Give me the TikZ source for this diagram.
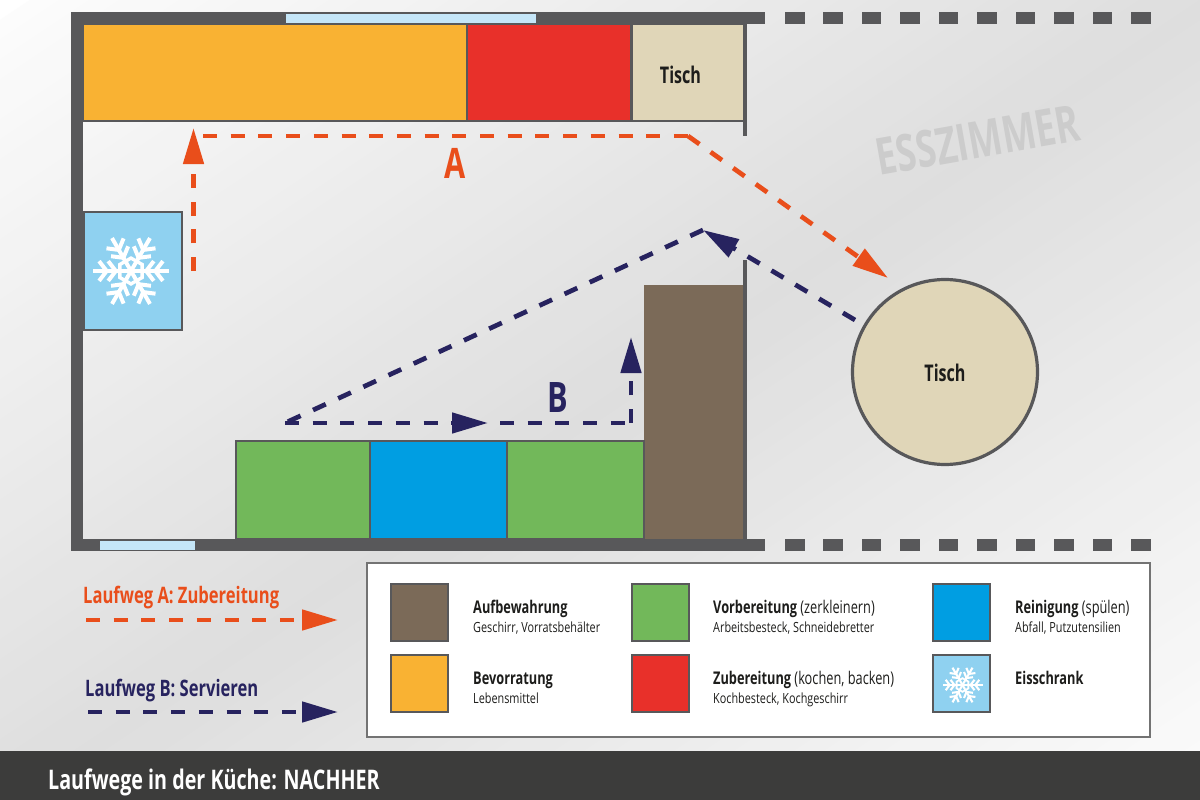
\documentclass[tikz,border=0pt]{standalone}
\usepackage{fontspec}
\setmainfont[FakeStretch=0.73]{Open Sans}
\newfontfamily\subf[FakeStretch=0.775]{Open Sans}
\newfontfamily\tischf[FakeStretch=0.70]{Open Sans}
\newfontfamily\roomf[FakeStretch=0.71]{Open Sans}
\usetikzlibrary{arrows.meta}
\definecolor{wallc}{HTML}{58585A}
\definecolor{winc}{HTML}{C5E6F8}
\definecolor{orangec}{HTML}{F9B233}
\definecolor{redc}{HTML}{E8302A}
\definecolor{tischc}{HTML}{E0D6B8}
\definecolor{brownc}{HTML}{7B6A58}
\definecolor{greenc}{HTML}{72B85A}
\definecolor{bluec}{HTML}{009EE2}
\definecolor{icec}{HTML}{8FD1F0}
\definecolor{pathA}{HTML}{E94E1B}
\definecolor{pathB}{HTML}{27235F}
\definecolor{barc}{HTML}{3C3C3B}
\definecolor{txt}{HTML}{1D1D1B}
\tikzset{
  x=1pt,y=-1pt,
  block/.style={anchor=north west,inner sep=0pt,outer sep=0pt,draw=wallc,line width=1.2pt},
  wallpart/.style={anchor=north west,inner sep=0pt,outer sep=0pt,fill=wallc},
  winpart/.style={anchor=north west,inner sep=0pt,outer sep=0pt,fill=winc,draw=wallc,line width=.5pt},
  swatch/.style={block,minimum width=57pt,minimum height=57pt},
  walkA/.style={draw=pathA,line width=4.7pt,dash pattern=on 14pt off 13.7pt},
  walkB/.style={draw=pathB,line width=4.7pt,dash pattern=on 14pt off 13.7pt},
  headA/.style={-{Triangle[length=36pt,width=20pt,color=pathA]}},
  headB/.style={-{Triangle[length=36pt,width=20pt,color=pathB]}},
  legmain/.style={anchor=base west,inner sep=0pt,font=\fontsize{17.5}{17.5}\selectfont\bfseries,text=txt},
  legsub/.style={anchor=base west,inner sep=0pt,font=\subf\fontsize{14}{14}\selectfont,text=txt},
  tischtext/.style={anchor=base,inner sep=0pt,font=\tischf\fontsize{23}{23}\selectfont\bfseries,text=txt},
  letter/.style={anchor=base,inner sep=0pt,font=\fontsize{42}{42}\selectfont\bfseries},
  routelabel/.style={anchor=base west,inner sep=0pt,font=\fontsize{22.7}{22.7}\selectfont\bfseries},
}
% snowflake: #1 centre, #2 radius
\newcommand{\flake}[2]{%
  \begin{scope}[shift={(#1)},line cap=butt,draw=white,line width=#2*0.105pt]
    \foreach \a in {0,60,...,300}{
      \begin{scope}[rotate=\a]
        \draw (0,0) -- (#2,0);
        \draw (#2*0.40,0) -- ++(#2*0.2,#2*0.26) (#2*0.40,0) -- ++(#2*0.2,-#2*0.26);
        \draw (#2*0.64,0) -- ++(#2*0.2,#2*0.26) (#2*0.64,0) -- ++(#2*0.2,-#2*0.26);
      \end{scope}
    }
    \draw[line width=#2*0.09pt] (30:#2*0.34) -- (90:#2*0.34) -- (150:#2*0.34) -- (210:#2*0.34) -- (270:#2*0.34) -- (330:#2*0.34) -- cycle;
  \end{scope}}
\begin{document}
\begin{tikzpicture}
\useasboundingbox (0,0) rectangle (1200,800);
% diagonal background gradient, painted as nested bands
\fill[white] (0,0) rectangle (1200,800);
\begin{scope}
\clip (0,0) rectangle (1200,800);
\foreach \i in {1,...,80}{
  \pgfmathsetmacro{\t}{\i/80}
  \pgfmathsetmacro{\g}{\t<0.5 ? 1+24*\t : 13-24*(\t-0.5)}
  \fill[black!\g] (2*\t*1200,0) -- (2400,0) -- (2400,1600) -- (0,1600) -- (0,2*\t*800) -- cycle;
}
\end{scope}

% walls
\node[wallpart,minimum width=694pt,minimum height=12pt] (walltop) at (71,12) {};
\node[wallpart,minimum width=12pt,minimum height=539pt] (wallleft) at (71,12) {};
\node[wallpart,minimum width=694pt,minimum height=12pt] (wallbottom) at (71,539) {};
\foreach \i in {0,...,9}{
  \node[wallpart,minimum width=19.5pt,minimum height=12pt] (dashtop\i) at (785+\i*38.45,12) {};
  \node[wallpart,minimum width=19.5pt,minimum height=12pt] (dashbot\i) at (785+\i*38.45,539) {};
}
\node[winpart,minimum width=251pt,minimum height=10pt] (wintop) at (285,13) {};
\node[winpart,minimum width=96pt,minimum height=10pt] (winbot) at (99,540) {};

% units
\node[block,fill=orangec,minimum width=384pt,minimum height=97pt] (stock) at (83,24) {};
\node[block,fill=redc,minimum width=164pt,minimum height=97pt] (cook) at (467,24) {};
\node[block,fill=tischc,minimum width=112pt,minimum height=97pt] (counter) at (632,24) {};
\node[tischtext] (countertext) at (680.5,84) {Tisch};
\node[wallpart,minimum width=4pt,minimum height=112pt] (stubtop) at (742.5,24) {};
\node[wallpart,minimum width=4pt,minimum height=279pt] (stubbot) at (742.5,260) {};
\node[block,fill=icec,minimum width=98pt,minimum height=118pt] (fridge) at (84,212) {};
\flake{131,271}{38}
\node[block,fill=brownc,draw=none,minimum width=98.5pt,minimum height=254pt] (storage) at (644,285) {};
\node[block,fill=greenc,minimum width=134pt,minimum height=98pt] (prep1) at (236,441) {};
\node[block,fill=bluec,minimum width=137pt,minimum height=98pt] (sink) at (370,441) {};
\node[block,fill=greenc,minimum width=137pt,minimum height=98pt] (prep2) at (507,441) {};
\node[circle,fill=tischc,draw=wallc,line width=3.2pt,minimum size=185pt,inner sep=0pt] (table) at (945,372) {};
\node[tischtext] (tabletext) at (945,381) {Tisch};
\node[anchor=center,inner sep=0pt,rotate=10,text=black!20,font=\roomf\fontsize{51}{51}\selectfont\bfseries] (room) at (978,140) {ESSZIMMER};

% route A
\coordinate (a0) at (193.5,271);
\coordinate (a1) at (193.5,128);
\coordinate (a2) at (203,136);
\coordinate (a3) at (688,136);
\coordinate (a4) at (888,278);
\draw[walkA,headA] (a0) -- (a1);
\draw[walkA] (a2) -- (a3);
\draw[walkA,headA] (a3) -- (a4);
\node[letter,text=pathA] (labelA) at (455,178) {A};

% route B
\coordinate (b0) at (285,423);
\coordinate (b1) at (488,423);
\coordinate (b1b) at (500,423);
\coordinate (b2) at (631,423);
\coordinate (b3) at (631,337);
\coordinate (b4) at (855,320);
\coordinate (b5) at (703,230);
\draw[walkB,headB] (b0) -- (b1);
\draw[walkB] (b1b) -- (b2);
\draw[walkB,headB] (b2) -- (b3);
\draw[walkB,headB] (b4) -- (b5);
\draw[walkB] (b5) -- (b0);
\node[letter,text=pathB] (labelB) at (558,412) {B};

% route legend
\node[routelabel,text=pathA] (keyA) at (83,603) {Laufweg A: Zubereitung};
\node[routelabel,text=pathB] (keyB) at (85,696) {Laufweg B: Servieren};
\coordinate (ka0) at (86,620);
\coordinate (ka1) at (338,620);
\coordinate (kb0) at (88,712);
\coordinate (kb1) at (338,712);
\draw[walkA,headA] (ka0) -- (ka1);
\draw[walkB,headB] (kb0) -- (kb1);

% legend
\node[anchor=north west,inner sep=0pt,outer sep=0pt,fill=white,draw=black!55,line width=1.6pt,minimum width=783pt,minimum height=174pt] (legend) at (367,563) {};
\node[swatch,fill=brownc] (s1) at (391,584) {};
\node[swatch,fill=orangec] (s2) at (391,655) {};
\node[swatch,fill=greenc] (s3) at (632,584) {};
\node[swatch,fill=redc] (s4) at (632,655) {};
\node[swatch,fill=bluec] (s5) at (933,584) {};
\node[swatch,fill=icec] (s6) at (933,655) {};
\flake{962.5,685}{20}
\node[legmain] (t1) at (473,613) {Aufbewahrung};
\node[legsub] (u1) at (473,632.5) {Geschirr, Vorratsbehälter};
\node[legmain] (t2) at (473,684) {Bevorratung};
\node[legsub] (u2) at (473,703.5) {Lebensmittel};
\node[legmain] (t3) at (713,613) {Vorbereitung \mdseries(zerkleinern)};
\node[legsub] (u3) at (713,632.5) {Arbeitsbesteck, Schneidebretter};
\node[legmain] (t4) at (713,684) {Zubereitung \mdseries(kochen, backen)};
\node[legsub] (u4) at (713,703.5) {Kochbesteck, Kochgeschirr};
\node[legmain] (t5) at (1015,613) {Reinigung \mdseries(spülen)};
\node[legsub] (u5) at (1015,632.5) {Abfall, Putzutensilien};
\node[legmain] (t6) at (1015,684) {Eisschrank};

% title bar
\node[anchor=north west,inner sep=0pt,outer sep=0pt,fill=barc,minimum width=1200pt,minimum height=49pt] (bar) at (0,751) {};
\node[anchor=base west,inner sep=0pt,text=white,font=\fontsize{27}{27}\selectfont\bfseries] (title) at (48,789) {Laufwege in der Küche: NACHHER};
\end{tikzpicture}
\end{document}
